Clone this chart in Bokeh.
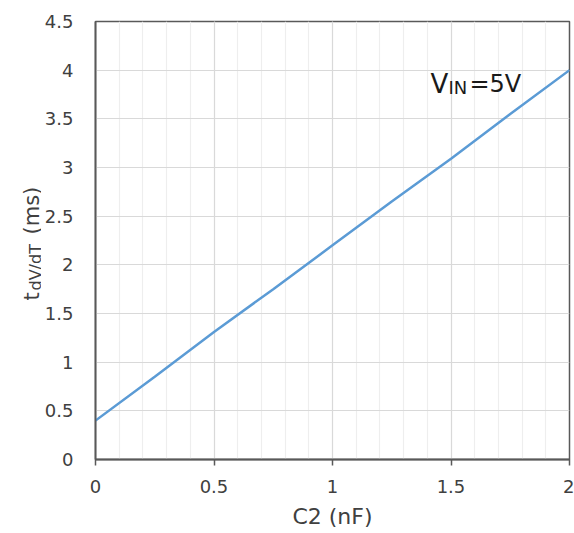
import math
from bokeh.plotting import figure
from bokeh.layouts import row
from bokeh.models import Range1d, SingleIntervalTicker, NumeralTickFormatter, Label
from bokeh.core.properties import value
from bokeh.embed import file_html
from bokeh.resources import INLINE

# data
c2_nf = [0.0, 0.25, 0.5, 0.75, 1.0, 1.25, 1.5, 1.75, 2.0]
t_ms = [0.40, 0.85, 1.31, 1.75, 2.20, 2.65, 3.09, 3.55, 4.00]

x_label = "C2 (nF)"
y_label_main = "t"
y_label_sub = "dV/dT"
y_label_unit = "(ms)"
ann_main = "V"
ann_sub = "IN"
ann_tail = "=5V"

FONT = "DejaVu Sans"
TXT = "#404040"
H = 533
LW = 41
TOP = 21
BOTTOM = 74

# ---------------- main chart ----------------
p = figure(width=574 - LW, height=H, output_backend="svg", toolbar_location=None,
           x_range=Range1d(0, 2), y_range=Range1d(0, 4.5),
           min_border_left=54, min_border_right=5, min_border_top=TOP, min_border_bottom=BOTTOM)

p.background_fill_color = "white"
p.border_fill_color = "white"
p.outline_line_color = "#595959"
p.outline_line_width = 1.5

p.xaxis.ticker = SingleIntervalTicker(interval=0.5, num_minor_ticks=5)
p.yaxis.ticker = SingleIntervalTicker(interval=0.5, num_minor_ticks=0)
for ax in (p.xaxis, p.yaxis):
    ax.formatter = NumeralTickFormatter(format="0.[0]")
    ax.axis_line_color = "#595959"
    ax.axis_line_width = 1.8
    ax.major_label_text_font = FONT
    ax.major_label_text_font_size = "18px"
    ax.major_label_text_color = TXT
    ax.minor_tick_line_color = None
    ax.major_tick_in = 0
    ax.major_tick_line_color = "#595959"
    ax.major_tick_line_width = 1.5

p.xaxis.major_tick_out = 6
p.xaxis.major_label_standoff = 14
p.xaxis.axis_label = x_label
p.xaxis.axis_label_text_font = FONT
p.xaxis.axis_label_text_font_size = "22px"
p.xaxis.axis_label_text_font_style = "normal"
p.xaxis.axis_label_text_color = TXT
p.xaxis.axis_label_standoff = 8

p.yaxis.major_tick_out = 0
p.yaxis.major_label_standoff = 22

p.xgrid.grid_line_color = "#d9d9d9"
p.xgrid.grid_line_width = 1.2
p.xgrid.minor_grid_line_color = "#eeeeee"
p.xgrid.minor_grid_line_width = 1.2
p.ygrid.grid_line_color = "#d9d9d9"
p.ygrid.grid_line_width = 1.2

p.line(c2_nf, t_ms, line_color="#5b9bd5", line_width=2.5)

# annotation V_IN=5V
p.add_layout(Label(x=1.414, y=3.863, text=ann_main, text_font=FONT, text_font_size="26px",
                   text_color="#1a1a1a", text_baseline="alphabetic", text_align="left"))
p.add_layout(Label(x=1.489, y=3.822, text=ann_sub, text_font=FONT, text_font_size="18px",
                   text_color="#1a1a1a", text_baseline="alphabetic", text_align="left"))
p.add_layout(Label(x=1.578, y=3.863, text=ann_tail, text_font=FONT, text_font_size="24px",
                   text_color="#1a1a1a", text_baseline="alphabetic", text_align="left"))

# ---------------- y-axis title strip (page-pixel coordinates, y measured up from page bottom) ----------------
q = figure(width=LW, height=H, output_backend="svg", toolbar_location=None,
           x_axis_location=None, y_axis_location=None,
           x_range=Range1d(0, LW), y_range=Range1d(BOTTOM, H - TOP),
           min_border_left=0, min_border_right=0, min_border_top=TOP, min_border_bottom=BOTTOM)
q.grid.visible = False
q.outline_line_color = None
q.background_fill_color = "white"
q.border_fill_color = "white"

rot = math.pi / 2
q.text(x=[31], y=[H - 300], text=[y_label_main], angle=rot, text_font=value(FONT),
       text_font_size="21px", text_color=TXT, text_baseline="alphabetic", text_align="left")
q.text(x=[35], y=[H - 290], text=[y_label_sub], angle=rot, text_font=value(FONT),
       text_font_size="16px", text_color=TXT, text_baseline="alphabetic", text_align="left")
q.text(x=[31], y=[H - 234], text=[y_label_unit], angle=rot, text_font=value(FONT),
       text_font_size="21px", text_color=TXT, text_baseline="alphabetic", text_align="left")

layout = row(q, p, spacing=0)
open("out.html", "w").write(file_html(layout, INLINE))
